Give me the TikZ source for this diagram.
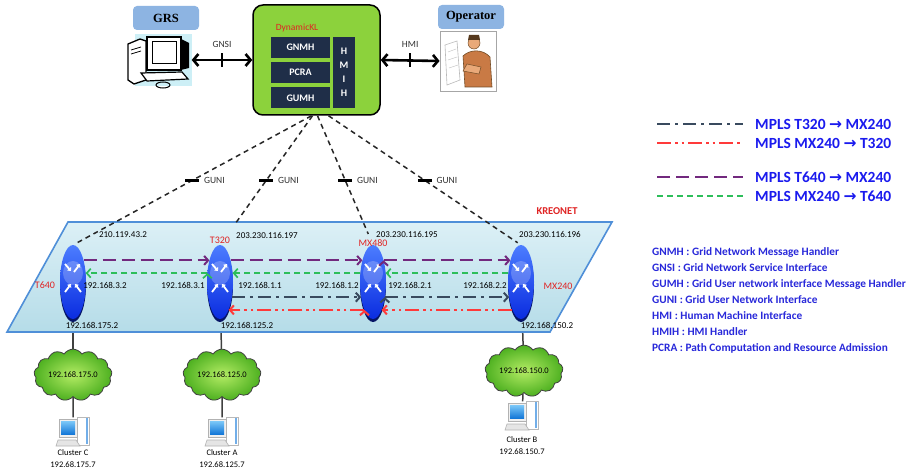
\documentclass[tikz,border=0pt]{standalone}
\usepackage{fontspec}
\setmainfont{Carlito}
\newfontfamily\titlefont{Liberation Serif}
\newfontfamily\symbfont{DejaVu Sans}
\usepackage{tikz}
\usetikzlibrary{backgrounds}
\usetikzlibrary{shapes.geometric,shapes.symbols}
\usetikzlibrary{%
  calc,%
  arrows.meta%
}

\definecolor{tagblue}{HTML}{8DB4E2}
\definecolor{klgreen}{HTML}{8CD23C}
\definecolor{modnavy}{HTML}{1F2E48}
\definecolor{grsbg}{HTML}{CDEFF6}
\definecolor{planetop}{HTML}{DCF0F6}
\definecolor{planebot}{HTML}{B5DCE8}
\definecolor{planeedge}{HTML}{4F8FD8}
\definecolor{rtop}{HTML}{4C7DFF}
\definecolor{rbot}{HTML}{0A2CE0}
\definecolor{rshadow}{HTML}{061566}
\definecolor{mplsnavy}{HTML}{394A5E}
\definecolor{mplsred}{HTML}{FF3A3A}
\definecolor{mplspurple}{HTML}{72297E}
\definecolor{mplsgreen}{HTML}{2DBE5A}
\definecolor{textblue}{HTML}{1A1AEE}
\definecolor{glossblue}{HTML}{2828DA}
\definecolor{netred}{HTML}{E02424}
\definecolor{cloudlight}{HTML}{B4EC64}
\definecolor{clouddark}{HTML}{4DB020}
\definecolor{screenlight}{HTML}{7CC8F8}
\definecolor{screendark}{HTML}{1478D8}
\definecolor{skin}{HTML}{E9A979}
\definecolor{opbody}{HTML}{C97A45}

\tikzset{
  tag/.style={rounded corners=4pt, fill=tagblue, minimum width=66pt, minimum height=24pt,
    font=\titlefont\bfseries\fontsize{12.5}{12.5}\selectfont},
  mod/.style={fill=modnavy, text=white, inner sep=0pt, minimum width=59pt, minimum height=21pt,
    font=\bfseries\fontsize{10}{10}\selectfont},
  router/.style={ellipse, minimum width=26pt, minimum height=74pt, inner sep=0pt, outer sep=0pt,
    top color=rtop, bottom color=rbot,
    preaction={fill=rshadow, transform canvas={yshift=-3pt}},
    path picture={
      \coordinate (rc) at (path picture bounding box.center);
      \fill[white, opacity=.22] ($(rc)+(0,-9)$) ellipse (10 and 12);
      \draw[white, line width=1.8pt, -{Triangle[length=3pt,width=5pt]}] ($(rc)+(-8,-18)$) -- ($(rc)+(-2,-11)$);
      \draw[white, line width=1.8pt, -{Triangle[length=3pt,width=5pt]}] ($(rc)+(1,-10)$) -- ($(rc)+(7,-18)$);
      \draw[white, line width=1.8pt, -{Triangle[length=3pt,width=5pt]}] ($(rc)+(-8,10)$) -- ($(rc)+(-2,2)$);
      \draw[white, line width=1.8pt, -{Triangle[length=3pt,width=5pt]}] ($(rc)+(8,10)$) -- ($(rc)+(2,2)$);
    }},
  rname/.style={text=netred, font=\fontsize{10}{10}\selectfont, inner sep=0pt},
  ip/.style={font=\fontsize{9}{9}\selectfont, inner sep=0pt},
  lan/.style={cloud, cloud puffs=13, cloud puff arc=115, aspect=1.6, draw=black!75, line width=.8pt,
    inner color=cloudlight, outer color=clouddark, minimum width=78pt, minimum height=51pt,
    inner sep=0pt, font=\fontsize{8.5}{8.5}\selectfont},
  clab/.style={align=center, font=\fontsize{8.5}{12}\selectfont, inner sep=0pt},
  stem/.style={draw=black!75, line width=1.5pt},
  bi/.style={line width=2.6pt, {Straight Barb[length=5pt,width=12pt]}-{Straight Barb[length=5pt,width=12pt]}},
  tickv/.style={fill=black, inner sep=0pt, minimum width=2.4pt, minimum height=14pt},
  tickh/.style={fill=black, inner sep=0pt, minimum width=14pt, minimum height=2.4pt},
  small/.style={font=\fontsize{9.5}{9.5}\selectfont, text=black!80},
  guniline/.style={draw=black!85, line width=1.5pt, dash pattern=on 5pt off 4pt},
  tsmx/.style={draw=mplsnavy, line width=2pt, dash pattern=on 13pt off 5pt on 3pt off 5pt},
  mxts/.style={draw=mplsred, line width=2pt, dash pattern=on 14pt off 4pt on 2.5pt off 4pt on 2.5pt off 4pt},
  tgmx/.style={draw=mplspurple, line width=2pt, dash pattern=on 13pt off 6pt},
  mxtg/.style={draw=mplsgreen, line width=1.7pt, dash pattern=on 6pt off 4pt},
  lgd/.style={anchor=west, text=textblue, inner sep=0pt, font=\bfseries\fontsize{15.5}{15.5}\selectfont},
  desktop/.pic={
    \filldraw[draw=gray!55, fill=white, line width=.6pt] (4,-15) rectangle (16,13);
    \fill[screendark!60] (13,-14) rectangle (15,12);
    \filldraw[draw=gray!60, fill=gray!12, line width=.6pt] (-14,-13) rectangle (4,5);
    \fill[top color=screenlight, bottom color=screendark] (-12,-11) rectangle (2,2);
    \filldraw[draw=gray!60, fill=gray!20, line width=.6pt] (-15,8) -- (3,8) -- (7,14) -- (-17,14) -- cycle;
    \node[inner sep=0pt, minimum width=32pt, minimum height=29pt] (-box) {};
  }
}

\begin{document}
\begin{tikzpicture}[x=1pt,y=-1pt,>={Straight Barb[length=4pt,width=9pt]}]
\useasboundingbox (0,0) rectangle (912,476);

% grid resource scheduler
\node[tag] (grstag) at (166,18) {GRS};
\node[fill=grsbg, inner sep=0pt, minimum width=57pt, minimum height=52pt] (grs) at (163,60) {};
\filldraw[line width=1.3pt, fill=white] (128,44) -- (140,39) -- (146,41) -- (146,80) -- (134,84) -- (128,80) -- cycle;
\draw[line width=.8pt] (131,50) -- (141,47) (131,54) -- (141,51);
\fill (181,39) -- (189,43) -- (189,68) -- (181,70) -- cycle;
\filldraw[line width=1.3pt, fill=white] (147,37) rectangle (181,70);
\draw[line width=1pt] (152,42) rectangle (176,64);
\filldraw[line width=1.2pt, fill=white] (141,73) -- (182,72) -- (188,79) -- (147,81) -- cycle;
\draw[line width=1pt] (163,85) ellipse (7 and 3);

% operator
\node[tag] (optag) at (471,17) {Operator};
\node[draw=gray!70, fill=white, line width=.8pt, inner sep=0pt, minimum width=56pt, minimum height=60pt] (op) at (468,61) {};
\filldraw[draw=gray!55, fill=white, line width=.6pt] (445,45) -- (457,41) -- (460,80) -- (447,85) -- cycle;
\draw[gray!50] (448,52) -- (456,49) (448,60) -- (457,57) (449,68) -- (458,65);
\filldraw[draw=brown!60!black, fill=opbody, line width=.6pt] (463,56) .. controls (470,49) and (483,49) .. (490,57) -- (492,87) -- (465,87) -- cycle;
\filldraw[draw=brown!60!black, fill=skin, line width=.5pt] (474,43) circle (6);
\fill[brown!45!black] (468,40) -- (469,35) -- (479,35) -- (480,40) -- cycle;
\filldraw[draw=brown!60!black, fill=skin, line width=.5pt] (467,64) -- (481,67) -- (479,74) -- (463,71) -- cycle;

% DynamicKL
\node[draw=black, line width=1.5pt, rounded corners=10pt, fill=klgreen, minimum width=127pt, minimum height=110pt] (dkl) at (316.5,60) {};
\node[text=netred, font=\fontsize{9.5}{9.5}\selectfont, inner sep=0pt] (dkltitle) at (297,28) {DynamicKL};
\node[mod] (gnmh) at (300.5,47.5) {GNMH};
\node[mod] (pcra) at (300.5,72.5) {PCRA};
\node[mod] (gumh) at (300.5,98) {GUMH};
\node[mod, minimum width=22pt, minimum height=71pt, align=center, font=\bfseries\fontsize{10}{14}\selectfont] (hmih) at (344,72.5) {H\\M\\I\\H};

\draw[bi] (grs.east) -- (grs.east -| dkl.west) node[midway, tickv, label={[small]above:GNSI}] (gnsi) {};
\draw[bi] (dkl.east) -- (op.west) node[midway, tickv, label={[small]above:HMI}] (hmi) {};

% routers
\node[router] (t640) at (73,282) {};
\node[router] (t320) at (220,282) {};
\node[router] (mx480) at (373,282) {};
\node[router] (mx240) at (521,282) {};

% access networks and clusters
\node[lan] (lanc) at (73,375) {192.168.175.0};
\node[lan] (lana) at (222,375) {192.168.125.0};
\node[lan] (lanb) at (524,371) {192.168.150.0};
\pic (pcc) at (73,432) {desktop};
\pic (pca) at (222,432) {desktop};
\pic (pcb) at (522,416) {desktop};
\node[clab] (clc) at (73,459) {Cluster C\\192.68.175.7};
\node[clab] (cla) at (222,459) {Cluster A\\192.68.125.7};
\node[clab] (clb) at (522,446) {Cluster B\\192.68.150.7};

\begin{pgfonlayer}{background}
\fill[white] (0,0) rectangle (912,476);
\path[stem] (t640) edge (lanc) (t320) edge (lana) (mx240) edge (lanb)
            (lanc) edge (pcc-box) (lana) edge (pca-box) (lanb) edge (pcb-box);
\filldraw[draw=planeedge, line width=1.6pt, top color=planetop, bottom color=planebot]
  (68,222) -- (612,222) -- (550,332) -- (7,332) -- cycle;
\end{pgfonlayer}
\node[text=netred, font=\bfseries\fontsize{10.5}{10.5}\selectfont, inner sep=0pt] (kreonet) at (557,211) {KREONET};

% GUNI links
\coordinate (k1) at ($(dkl.south)+(-5,0)$);
\coordinate (k2) at ($(dkl.south)+(-4,0)$);
\coordinate (k3) at ($(dkl.south)+(1,0)$);
\coordinate (k4) at ($(dkl.south)+(12,0)$);
\path[guniline] (k1) edge[shorten >=4pt] node[pos=.5, tickh, label={[small]right:GUNI}] (g1) {} (t640.north)
                (k2) edge[shorten >=24pt] node[pos=.5, tickh, label={[small]right:GUNI}] (g2) {} (t320.north)
                (k3) edge[shorten >=12pt] node[pos=.5, tickh, label={[small]right:GUNI}] (g3) {} (mx480.north)
                (k4) edge[shorten >=4pt] node[pos=.5, tickh, label={[small]right:GUNI}] (g4) {} (mx240.north);

% MPLS paths
\path[tgmx, ->] (t640.64) edge (t320.116) (t320.64) edge (mx480.116) (mx480.64) edge (mx240.116);
\path[mxtg, ->] (mx240.145) edge (mx480.35) (mx480.145) edge (t320.35) (t320.145) edge (t640.35);
\path[tsmx, ->] (t320.308) edge (mx480.232) (mx480.308) edge (mx240.232);
\path[mxts, ->] (mx240.253) edge (mx480.287) (mx480.253) edge (t320.287);

\node[rname] (n640) at (45,285) {T640};
\node[rname] (n320) at (220,240) {T320};
\node[rname] (n480) at (373,243) {MX480};
\node[rname] (n240) at (558,286) {MX240};

\node[ip] (ip1) at (123,235) {210.119.43.2};
\node[ip] (ip2) at (267,235) {203.230.116.197};
\node[ip] (ip3) at (407,234) {203.230.116.195};
\node[ip] (ip4) at (550,234) {203.230.116.196};
\node[ip] (ip5) at (105,285) {192.168.3.2};
\node[ip] (ip6) at (183,285) {192.168.3.1};
\node[ip] (ip7) at (260,285) {192.168.1.1};
\node[ip] (ip8) at (337,285) {192.168.1.2};
\node[ip] (ip9) at (410,285) {192.168.2.1};
\node[ip] (ip10) at (485,285) {192.168.2.2};
\node[ip] (ip11) at (92,325) {192.168.175.2};
\node[ip] (ip12) at (247,325) {192.168.125.2};
\node[ip] (ip13) at (547,325) {192.168.150.2};

% legend
\coordinate (ls1) at (657,124);
\coordinate (ls2) at (657,143);
\coordinate (ls3) at (657,177);
\coordinate (ls4) at (657,196);
\node[lgd] (lg1) at (755,124) {MPLS T320 {\symbfont →} MX240};
\node[lgd] (lg2) at (755,143) {MPLS MX240 {\symbfont →} T320};
\node[lgd] (lg3) at (755,177) {MPLS T640 {\symbfont →} MX240};
\node[lgd] (lg4) at (755,196) {MPLS MX240 {\symbfont →} T640};
\path[tsmx] (ls1) edge[shorten >=12pt] (lg1.west);
\path[mxts] (ls2) edge[shorten >=12pt] (lg2.west);
\path[tgmx] (ls3) edge[shorten >=12pt] (lg3.west);
\path[mxtg] (ls4) edge[shorten >=12pt] (lg4.west);

\node[anchor=north west, align=left, text=glossblue, inner sep=0pt,
      font=\bfseries\fontsize{11.3}{16}\selectfont] (gloss) at (652,247)
  {GNMH : Grid Network Message Handler\\
   GNSI : Grid Network Service Interface\\
   GUMH : Grid User network interface Message Handler\\
   GUNI : Grid User Network Interface\\
   HMI : Human Machine Interface\\
   HMIH : HMI Handler\\
   PCRA : Path Computation and Resource Admission};
\end{tikzpicture}
\end{document}
